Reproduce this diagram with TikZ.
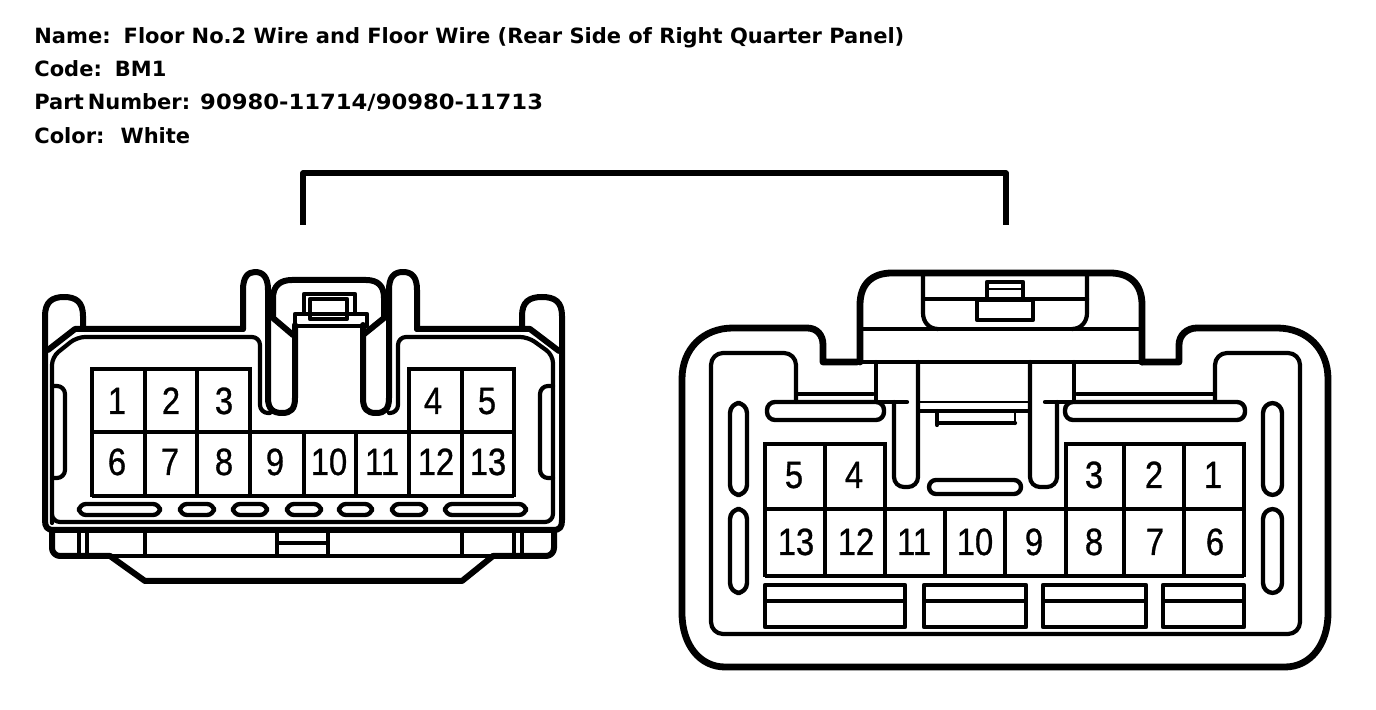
\documentclass[tikz,border=0pt]{standalone}
\usepackage{fontspec}
\setmainfont{Liberation Sans}
\newfontfamily\pinfont[FakeStretch=0.86,FakeBold=0.8]{Liberation Sans}
\newfontfamily\titlefont{DejaVu Sans}

\begin{document}
\begin{tikzpicture}[x=0.5pt,y=-0.5pt,line join=round,line cap=round,
	body/.style={line width=3pt},
	heavy/.style={line width=3.4pt},
	grid/.style={line width=2.4pt,line cap=butt},
	thin line/.style={line width=2.1pt},
	pill/.style={line width=2.2pt,rounded corners=3.5pt},
	vpill/.style={line width=2.2pt,rounded corners=5pt},
	pin/.style={anchor=base,inner sep=0pt,font=\pinfont\fontsize{19}{19}\selectfont},
	info/.style={anchor=base west,inner sep=0pt,font=\titlefont\bfseries\fontsize{10.5}{12}\selectfont}]
\useasboundingbox (0,0) rectangle (1376,710);

% header text
\node[info] (name) at (34,44) {Name:\hspace{6.5pt}Floor No.2 Wire and Floor Wire (Rear Side of Right Quarter Panel)};
\node[info] (code) at (34,77) {Code:\hspace{6.5pt}BM1};
\node[info] (partno) at (34,110) {Part\hspace{2pt}Number:\hspace{5pt}\addfontfeature{FakeStretch=1.08}90980-11714/90980-11713};
\node[info] (colour) at (34,144) {Color:\hspace{8pt}White};

% bracket joining the two views
\coordinate (brL) at (303,225);
\coordinate (brR) at (1006,225);
\draw[line width=2.8pt,line cap=butt] (brL) |- (654,173) -| (brR);

%%% left connector
% outer shell
\draw[body] (83,329) -- (83,316) .. controls (83,302) and (76,297) .. (64,297) .. controls (52,297) and (45,302) .. (45,316)
	-- (45,520) .. controls (45,527) and (47,530) .. (54,530) -- (553,530) .. controls (560,530) and (562,527) .. (562,520)
	-- (562,316) .. controls (562,302) and (555,297) .. (542,297) .. controls (529,297) and (522,302) .. (522,316) -- (522,329);
\draw[body] (48,350) -- (75,329) -- (243,329);
\draw[body] (417,329) -- (530,329) -- (559,351);
% posts and slots
\draw[body] (243,329) -- (243,290) .. controls (243,277) and (248,272) .. (255,272) .. controls (263,272) and (268,277) .. (268,290)
	-- (268,398) .. controls (268,409) and (273,413) .. (282,413) .. controls (291,413) and (295,409) .. (295,398) -- (295,325);
\draw[body] (417,329) -- (417,290) .. controls (417,277) and (412,272) .. (403,272) .. controls (394,272) and (389,277) .. (389,290)
	-- (389,398) .. controls (389,409) and (385,413) .. (376,413) .. controls (367,413) and (363,409) .. (363,398) -- (363,325);
% inner wall
\draw[thin line,rounded corners=4pt] (270,413) -- (260,413) -- (260,337) -- (77,337) -- (52,357) -- (52,515) -- (52,522) -- (553,522) -- (553,355) -- (528,337) -- (398,337) -- (398,413) -- (389,413);
\draw[thin line,rounded corners=4pt] (52,386) -- (65,386) -- (65,478) -- (52,478);
\draw[thin line,rounded corners=4pt] (553,386) -- (540,386) -- (540,478) -- (553,478);
% latch
\draw[body] (293,335) -- (273,318) -- (273,298) .. controls (273,286) and (280,280) .. (292,280) -- (366,280) .. controls (378,280) and (384,286) .. (384,298) -- (384,318) -- (363,335);
\draw[thin line] (295,326) rectangle (367,314);
\draw[thin line] (304,314) -- (304,294) -- (355,294) -- (355,314);
\draw[thin line] (310,319) rectangle (347,299);
% pin grid
\draw[grid] (92,432) -- (514,432);
\draw[grid] (92,496) -- (514,496);
\draw[grid] (92,369) -- (250,369);
\draw[grid] (409,369) -- (514,369);
\draw[grid] (92,367.5) -- (92,497);
\draw[grid] (145,369) -- (145,496);
\draw[grid] (197,369) -- (197,496);
\draw[grid] (250,367.5) -- (250,496);
\draw[grid] (304,432) -- (304,496);
\draw[grid] (356,432) -- (356,496);
\draw[grid] (409,367.5) -- (409,496);
\draw[grid] (462,369) -- (462,496);
\draw[grid] (514,367.5) -- (514,497);
\node[pin] (la1) at (117,414) {1};
\node[pin] (la2) at (171,414) {2};
\node[pin] (la3) at (224,414) {3};
\node[pin] (la4) at (433,414) {4};
\node[pin] (la5) at (487,414) {5};
\node[pin] (la6) at (117,475) {6};
\node[pin] (la7) at (170,475) {7};
\node[pin] (la8) at (224,475) {8};
\node[pin] (la9) at (275,475) {9};
\node[pin] (la10) at (329,475) {10};
\node[pin] (la11) at (382,475) {11};
\node[pin] (la12) at (436,475) {12};
\node[pin] (la13) at (488,475) {13};
% slots under the grid
\draw[pill] (79,504) rectangle (160,515);
\draw[pill] (180,504) rectangle (214,515);
\draw[pill] (233,504) rectangle (267,515);
\draw[pill] (287,504) rectangle (321,515);
\draw[pill] (339,504) rectangle (372,515);
\draw[pill] (392,504) rectangle (426,515);
\draw[pill] (445,504) rectangle (526,515);
% foot
\draw[body,rounded corners=4pt] (52,530) -- (52,556) -- (110,556);
\draw[body,rounded corners=4pt] (554,530) -- (554,556) -- (493,556);
\draw[body] (110,556) -- (145,581) -- (462,581) -- (493,556);
\draw[grid] (110,556) -- (493,556);
\draw[grid] (79,530) -- (79,556);
\draw[grid] (87,530) -- (87,556);
\draw[grid] (145,530) -- (145,556);
\draw[grid] (277,530) -- (277,556);
\draw[grid] (328,530) -- (328,556);
\draw[grid] (462,530) -- (462,556);
\draw[grid] (514,530) -- (514,556);
\draw[grid] (522,530) -- (522,556);
\draw[grid] (277,543) -- (328,543);

%%% right connector
% outer shell
\draw[heavy] (857,362) -- (823,362) -- (823,345) .. controls (823,335) and (817,328) .. (807,328) -- (733,328)
	.. controls (703,328) and (682,349) .. (682,379) -- (682,613) .. controls (682,645) and (700,667) .. (725,667)
	-- (1285,667) .. controls (1310,667) and (1328,645) .. (1328,613) -- (1328,379)
	.. controls (1328,349) and (1307,328) .. (1277,328) -- (1197,328) .. controls (1187,328) and (1179,335) .. (1179,345) -- (1179,362) -- (1142,362);
% hood
\draw[heavy] (860,362) -- (860,305) .. controls (860,284) and (872,273) .. (892,273) -- (1110,273) .. controls (1130,273) and (1142,284) .. (1142,305) -- (1142,362);
\draw[thin line] (860,362) -- (1142,362);
\draw[thin line] (860,329) -- (1142,329);
\draw[thin line] (923,273) -- (923,313) .. controls (923,322) and (929,329) .. (938,329);
\draw[thin line] (1087,273) -- (1087,313) .. controls (1087,322) and (1081,329) .. (1072,329);
\draw[thin line] (923,299) -- (1087,299);
\draw[thin line] (977,300) rectangle (1033,320);
\draw[thin line] (987,299) -- (987,282) -- (1023,282) -- (1023,299);
\draw[line width=1.2pt] (989,289) -- (1021,289);
% inner wall
\draw[thin line,rounded corners=6pt] (796,402) -- (796,353) -- (711,353) -- (711,634) -- (1300,634) -- (1300,353) -- (1215,353) -- (1215,402);
\draw[thin line] (798,394) -- (873,394);
\draw[thin line] (1077,394) -- (1213,394);
% posts and top slots
\draw[thin line] (876,362) -- (876,402);
\draw[thin line] (1074,362) -- (1074,402);
\draw[thin line,rounded corners=5pt] (918,362) -- (918,487) -- (894,487) -- (894,402);
\draw[thin line,rounded corners=5pt] (1030,362) -- (1030,487) -- (1057,487) -- (1057,402);
\draw[thin line] (876,402) -- (907,402);
\draw[thin line] (1045,402) -- (1074,402);
\draw[line width=1.3pt] (920,402) -- (1028,402);
\draw[thin line] (920,411) -- (1028,411);
\draw[thin line] (937,411) -- (937,425);
\draw[thin line] (937,423) -- (1015,423);
\draw[line width=1.3pt] (1015,411) -- (1015,424);
\draw[pill,rounded corners=4pt] (767,402) rectangle (884,420);
\draw[pill,rounded corners=4pt] (1065,402) rectangle (1245,420);
\draw[pill,rounded corners=3.5pt] (929,480) rectangle (1021,494);
\draw[vpill] (730,403) rectangle (747,495);
\draw[vpill] (730,509) rectangle (747,593);
\draw[vpill] (1263,403) rectangle (1282,495);
\draw[vpill] (1263,509) rectangle (1282,593);
% pin grid
\draw[grid] (765,509) -- (1244,509);
\draw[grid] (765,576) -- (1244,576);
\draw[grid] (765,444) -- (885,444);
\draw[grid] (1066,444) -- (1244,444);
\draw[grid] (765,442.5) -- (765,577);
\draw[grid] (825,444) -- (825,576);
\draw[grid] (885,442.5) -- (885,576);
\draw[grid] (945,509) -- (945,576);
\draw[grid] (1005,509) -- (1005,576);
\draw[grid] (1066,442.5) -- (1066,576);
\draw[grid] (1124,444) -- (1124,576);
\draw[grid] (1184,444) -- (1184,576);
\draw[grid] (1244,442.5) -- (1244,577);
\node[pin] (ra1) at (1213,488) {1};
\node[pin] (ra2) at (1154,488) {2};
\node[pin] (ra3) at (1094,488) {3};
\node[pin] (ra4) at (854,488) {4};
\node[pin] (ra5) at (794,488) {5};
\node[pin] (ra6) at (1215,555) {6};
\node[pin] (ra7) at (1155,555) {7};
\node[pin] (ra8) at (1094,555) {8};
\node[pin] (ra9) at (1034,555) {9};
\node[pin] (ra10) at (975,555) {10};
\node[pin] (ra11) at (914,555) {11};
\node[pin] (ra12) at (856,555) {12};
\node[pin] (ra13) at (796,555) {13};
% boxes under the grid
\draw[grid] (765,585) rectangle (905,627);
\draw[grid] (765,601) -- (905,601);
\draw[grid] (924,585) rectangle (1026,627);
\draw[grid] (924,601) -- (1026,601);
\draw[grid] (1043,585) rectangle (1146,627);
\draw[grid] (1043,601) -- (1146,601);
\draw[grid] (1163,585) rectangle (1244,627);
\draw[grid] (1163,601) -- (1244,601);
\end{tikzpicture}
\end{document}
